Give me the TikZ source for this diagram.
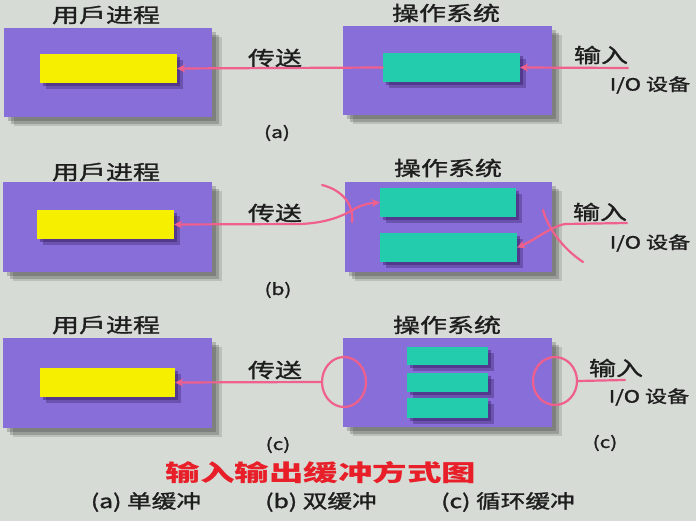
\documentclass[tikz,border=0pt]{standalone}
\usepackage{fontspec}
\setmainfont{Noto Sans CJK SC}
\newfontfamily\medf{Noto Sans CJK SC}[FakeBold=1.2]
\usetikzlibrary{arrows.meta,shapes.geometric}
\definecolor{bg}{RGB}{214,219,213}
\definecolor{boxc}{RGB}{136,110,216}
\definecolor{ylw}{RGB}{246,240,0}
\definecolor{tealc}{RGB}{34,204,172}
\definecolor{pinkl}{RGB}{240,96,140}
\definecolor{capred}{RGB}{232,30,40}
\definecolor{txt}{RGB}{30,30,30}
\definecolor{barshd}{RGB}{55,30,100}
\newcommand\hsx[2]{\scalebox{#1}[1]{#2}}
\tikzset{
  x=1pt, y=-1pt,
  pbox/.style 2 args={rectangle, fill=boxc, draw=none, inner sep=0,
    minimum width=#1pt, minimum height=#2pt,
    preaction={fill=black, opacity=.18, transform canvas={shift={(4,4)}}},
    preaction={fill=black, opacity=.18, transform canvas={shift={(7,7)}}},
    preaction={fill=black, opacity=.12, transform canvas={shift={(10,9)}}}},
  ybar/.style 2 args={rectangle, fill=ylw, draw=none, inner sep=0,
    minimum width=#1pt, minimum height=#2pt,
    preaction={fill=barshd, opacity=.45, transform canvas={shift={(3,3)}}},
    preaction={fill=barshd, opacity=.35, transform canvas={shift={(6,6)}}}},
  tbar/.style 2 args={ybar={#1}{#2}, fill=tealc},
  ttl/.style={inner sep=0, text=txt, font=\fontsize{20}{24}\medf},
  sml/.style={inner sep=0, text=txt, font=\fontsize{17}{20}\medf},
  tag/.style={inner sep=0, text=txt, font=\fontsize{16}{19}\medf},
  pl/.style={draw=pinkl, line width=2.2pt, line cap=round},
  tip/.style={-{Stealth[length=8pt,width=8pt]}},
  ring/.style={ellipse, draw=pinkl, line width=2.2pt, inner sep=0}
}
\begin{document}
\begin{tikzpicture}
\fill[bg] (0,0) rectangle (696,521);
\useasboundingbox (0,0) rectangle (696,521);

% ---------- row a ----------
\node[pbox={208}{89}] (ua) at (108,72.5) {};
\node[pbox={209}{89}] (oa) at (447.5,70.5) {};
\node[ybar={137}{29}] (ya) at (108.5,68.5) {};
\node[tbar={137}{29}] (ta) at (451.5,67.5) {};
\node[ttl] (tua) at (106,15) {\hsx{1.35}{用戶进程}};
\node[ttl] (toa) at (446,13) {\hsx{1.35}{操作系统}};
\node[ttl] (csa) at (275,58) {\hsx{1.35}{传送}};
\node[ttl] (ira) at (601,55) {\hsx{1.35}{输入}};
\node[sml] (ioa) at (650,85) {\hsx{1.3}{I/O 设备}};
\node[tag] (la) at (277,133) {\hsx{1.3}{(a)}};
\coordinate (ina) at (628,68);
\draw[pl,tip] (ta.west) -- (ya.east);
\draw[pl,tip] (ina) -- (ta.east);

% ---------- row b ----------
\node[pbox={209}{90}] (ub) at (107.5,227) {};
\node[pbox={207}{90}] (ob) at (448.5,227) {};
\node[ybar={137}{29}] (yb) at (105.5,224.5) {};
\node[tbar={136}{29}] (tb1) at (448,202.5) {};
\node[tbar={137}{29}] (tb2) at (448.5,247.5) {};
\node[ttl] (tub) at (106,172) {\hsx{1.35}{用戶进程}};
\node[ttl] (tob) at (448,168) {\hsx{1.35}{操作系统}};
\node[ttl] (csb) at (275,213) {\hsx{1.35}{传送}};
\node[ttl] (irb) at (600,212) {\hsx{1.35}{输入}};
\node[sml] (iob) at (650,243) {\hsx{1.3}{I/O 设备}};
\node[tag] (lb) at (278,290) {\hsx{1.3}{(b)}};
\coordinate (inb) at (627,223);
\draw[pl,{Stealth[length=8pt,width=8pt]}-{Stealth[length=8pt,width=8pt]}] (yb.east) -- (300,224)
  .. controls (328,223) and (345,215) .. (356,208)
  .. controls (364,204) and (372,203) .. (tb1.west);
\draw[pl] (322,185) .. controls (342,190) and (354,204) .. (352,222);
\draw[pl,tip] (inb) -- (565,224) .. controls (550,227) and (535,240) .. (tb2.east);
\draw[pl] (543,210) .. controls (548,228) and (562,248) .. (583,262);

% ---------- row c ----------
\node[pbox={209}{90}] (uc) at (107.5,383) {};
\node[pbox={209}{89}] (oc) at (447.5,382.5) {};
\node[ybar={135}{29}] (yc) at (107.5,382.5) {};
\node[tbar={81}{18}] (tc1) at (447.5,356) {};
\node[tbar={81}{19}] (tc2) at (447.5,382.5) {};
\node[tbar={81}{20}] (tc3) at (447.5,408) {};
\node[ttl] (tuc) at (106,325) {\hsx{1.35}{用戶进程}};
\node[ttl] (toc) at (447,325) {\hsx{1.35}{操作系统}};
\node[ttl] (csc) at (275,370) {\hsx{1.35}{传送}};
\node[ttl] (irc) at (616,368) {\hsx{1.35}{输入}};
\node[sml] (ioc) at (649,397) {\hsx{1.3}{I/O 设备}};
\node[tag] (lc1) at (278,445) {\hsx{1.3}{(c)}};
\node[tag] (lc2) at (605,443) {\hsx{1.3}{(c)}};
\node[ring, minimum width=44pt, minimum height=50pt] (el) at (344,382) {};
\node[ring, minimum width=44pt, minimum height=48pt] (er) at (555,381) {};
\coordinate (inc) at (625,380);
\draw[pl,tip] (el.west) -- (yc.east);
\draw[pl] (inc) -- (er.east);

% ---------- captions ----------
\node[inner sep=0, text=capred, font=\fontsize{23}{26}\selectfont\bfseries] (cap) at (321,473) {\hsx{1.5}{输入输出缓冲方式图}};
\node[inner sep=0, text=txt, font=\fontsize{19}{22}\medf] (sa) at (146,502) {\hsx{1.3}{(a) 单缓冲}};
\node[inner sep=0, text=txt, font=\fontsize{19}{22}\medf] (sb) at (321,502) {\hsx{1.3}{(b) 双缓冲}};
\node[inner sep=0, text=txt, font=\fontsize{19}{22}\medf] (sc) at (508,502) {\hsx{1.3}{(c) 循环缓冲}};
\end{tikzpicture}
\end{document}
